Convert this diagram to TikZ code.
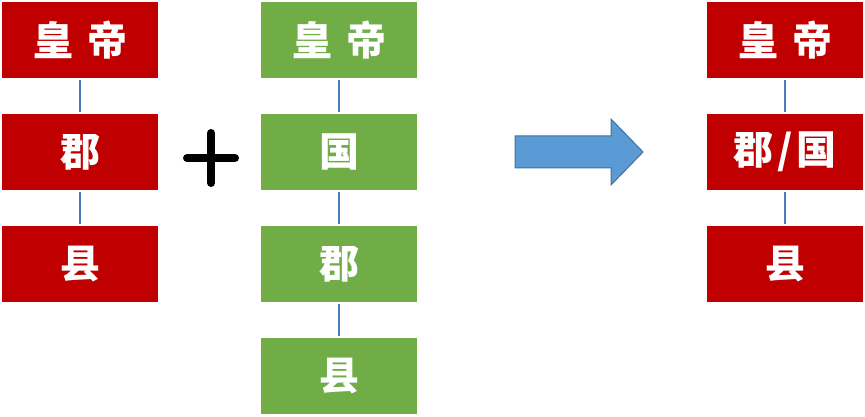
\documentclass[tikz,border=0pt]{standalone}
\usepackage{fontspec}
\newfontfamily\cjk{Noto Sans CJK SC}
\usetikzlibrary{shapes.arrows}
\definecolor{redbox}{HTML}{C00000}
\definecolor{greenbox}{HTML}{70AD47}
\definecolor{linkblue}{HTML}{4A7EBB}
\definecolor{arrowfill}{HTML}{5B9BD5}
\definecolor{arrowline}{HTML}{41719C}
\tikzset{
  x=1pt, y=-1pt,
  box/.style={minimum width=156pt, minimum height=76pt, inner sep=0pt, text=white,
    font=\cjk\bfseries\fontsize{40}{42}\selectfont},
  redb/.style={box, fill=redbox},
  greenb/.style={box, fill=greenbox},
  link/.style={draw=linkblue, line width=1.6pt, shorten >=2pt, shorten <=2pt},
}
\begin{document}
\begin{tikzpicture}
\useasboundingbox (0,0) rectangle (865,417);
% left red column
\node[redb] (r1) at (80,40) {皇\hspace{14pt}帝};
\node[redb] (r2) at (80,152) {郡};
\node[redb] (r3) at (80,264) {县};
\draw[link] (r1.south) -- (r2.north);
\draw[link] (r2.south) -- (r3.north);
% plus
\draw[line width=8pt, line cap=round] (187,158) -- (235,158);
\draw[line width=8pt, line cap=round] (211,133) -- (211,183);
% green column
\node[greenb] (g1) at (339,40) {皇\hspace{14pt}帝};
\node[greenb] (g2) at (339,152) {国};
\node[greenb] (g3) at (339,264) {郡};
\node[greenb] (g4) at (339,376) {县};
\draw[link] (g1.south) -- (g2.north);
\draw[link] (g2.south) -- (g3.north);
\draw[link] (g3.south) -- (g4.north);
% arrow
\draw[fill=arrowfill, draw=arrowline, line width=1pt, line join=miter]
  (515,136) -- (611,136) -- (611,119) -- (643,152) -- (611,185) -- (611,168) -- (515,168) -- cycle;
% right red column
\node[redb] (s1) at (785,40) {皇\hspace{14pt}帝};
\node[redb] (s2) at (785,152) {郡\hspace{4pt}/\hspace{4pt}国};
\node[redb] (s3) at (785,264) {县};
\draw[link] (s1.south) -- (s2.north);
\draw[link] (s2.south) -- (s3.north);
\end{tikzpicture}
\end{document}
